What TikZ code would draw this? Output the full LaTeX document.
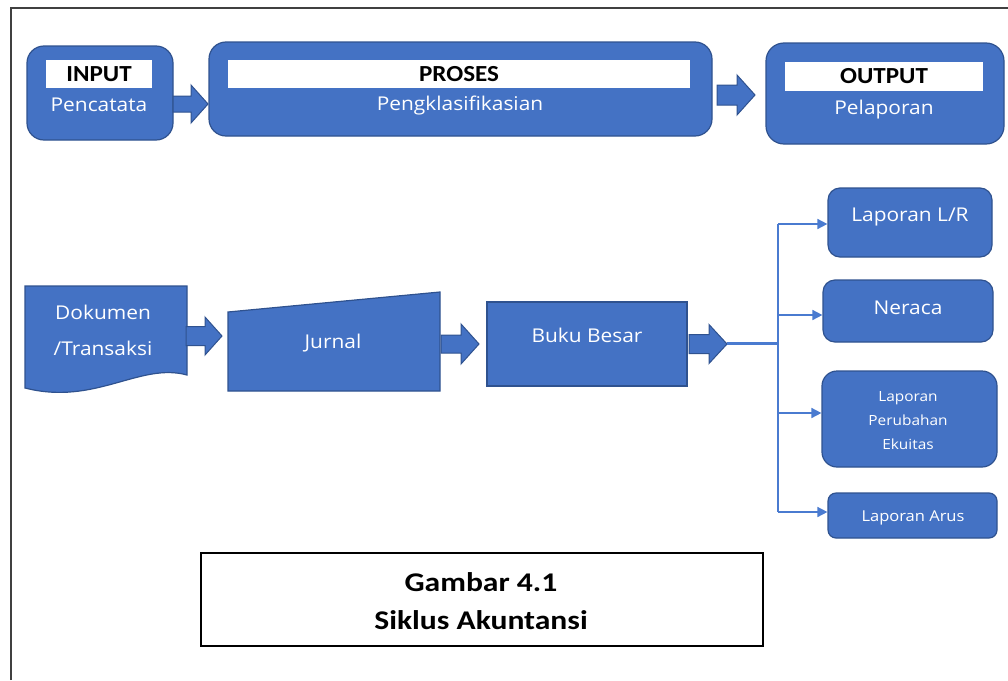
\documentclass[tikz,border=0pt]{standalone}
\usepackage{fontspec}
\setmainfont{Carlito}[FakeStretch=1.09]
\newfontfamily\wfont{Open Sans}[FakeStretch=1.1]
\newfontfamily\capfont{Carlito}[FakeStretch=1.17]
\usetikzlibrary{arrows.meta}
\definecolor{bfill}{HTML}{4472C4}
\definecolor{bdraw}{HTML}{2F528F}
\definecolor{lcol}{HTML}{4A7BD0}
\definecolor{framec}{HTML}{404040}
\newcommand\barrow[6]{%
  \filldraw[barrowst] ({#1},{#3-#4}) -- ({#2-#6},{#3-#4}) -- ({#2-#6},{#3-#5}) -- ({#2},{#3}) -- ({#2-#6},{#3+#5}) -- ({#2-#6},{#3+#4}) -- ({#1},{#3+#4}) -- cycle;}
\begin{document}
\begin{tikzpicture}[x=1pt,y=-1pt,
  rbox/.style={draw=bdraw, fill=bfill, line width=1.2pt, rounded corners=#1, inner sep=0pt},
  sbox/.style={draw=bdraw, fill=bfill, line width=1.2pt, inner sep=0pt},
  wbar/.style={fill=white, draw=none, inner sep=0pt, font=\bfseries\fontsize{23}{26}\selectfont, text=black},
  wtext/.style={text=white, inner sep=0pt, font=\wfont\fontsize{19}{22}\selectfont},
  barrowst/.style={fill=bfill, draw=bdraw, line width=1pt, line join=miter},
  conn/.style={draw=lcol, line width=1.6pt, -{Triangle[length=10pt,width=10pt]}},
  shapest/.style={fill=bfill, draw=bdraw, line width=1.2pt}
]
\useasboundingbox (0,0) rectangle (1008,680);
% frame
\draw[framec, line width=2.5pt] (11,680) -- (11,8);
\draw[framec, line width=1.5pt] (10,8) -- (1008,8);

% top row
\node[rbox=17pt, minimum width=146pt, minimum height=94pt] (inbox) at (100,93) {};
\node[wbar, minimum width=106pt, minimum height=28pt] (inlab) at (99,74) {INPUT};
\node[wtext] (intext) at (99,105) {Pencatata};

\node[rbox=17pt, minimum width=503pt, minimum height=94pt] (probox) at (460.5,89) {};
\node[wbar, minimum width=462pt, minimum height=28pt] (prolab) at (459,74) {PROSES};
\node[wtext] (protext) at (460,106) {Pengklasifikasian};

\node[rbox=18pt, minimum width=238pt, minimum height=101pt] (outbox) at (885,93.5) {};
\node[wbar, minimum width=198pt, minimum height=29pt] (outlab) at (884,76.5) {OUTPUT};
\node[wtext] (outtext) at (884,110) {Pelaporan};

\barrow{173}{208}{104}{8}{19}{17}
\barrow{717}{755}{95}{10}{20}{18}

% second row
\path[shapest] (25,286) -- (187,286) -- (187,375) .. controls (140,362) and (95,406) .. (25,388) -- cycle;
\node[wtext, align=center, font=\wfont\fontsize{19}{36}\selectfont] (dok) at (103,330) {Dokumen\\/Transaksi};

\path[shapest] (228,312) -- (440,292) -- (440,391) -- (228,391) -- cycle;
\node[wtext] (jur) at (333,343) {Jurnal};

\node[sbox, minimum width=200pt, minimum height=84pt] (bukubox) at (587,344) {};
\node[wtext] (buku) at (587,335) {Buku Besar};

\barrow{186}{222}{336}{9.5}{19}{17}
\barrow{441}{479}{344}{9}{20}{18}
\barrow{689}{727}{344}{9.5}{19.5}{18}

% right boxes
\node[rbox=12pt, minimum width=164pt, minimum height=69pt] (lrbox) at (910,222.5) {};
\node[wtext] (lr) at (910,217) {Laporan L/R};
\node[rbox=12pt, minimum width=170pt, minimum height=62pt] (nerbox) at (908,311) {};
\node[wtext] (ner) at (908,308) {Neraca};
\node[rbox=15pt, minimum width=175pt, minimum height=96pt] (ekbox) at (909.5,419) {};
\node[wtext, align=center, font=\wfont\fontsize{14}{24}\selectfont] (ek) at (908,421) {Laporan\\Perubahan\\Ekuitas};
\node[rbox=8pt, minimum width=169pt, minimum height=45pt] (arbox) at (912.5,515.5) {};
\node[wtext, font=\wfont\fontsize{15}{18}\selectfont] (ar) at (913,518) {Laporan Arus};

% connectors
\coordinate (start) at (727,343);
\coordinate (junc) at (779,343);
\draw[lcol, line width=3pt] (start) -- (junc);
\draw[lcol, line width=1.6pt] (778,224) -- (778,512);
\draw[conn] (778,224) -- (lrbox.west |- 0,224);
\draw[conn] (778,315) -- (nerbox.west |- 0,315);
\draw[conn] (778,413) -- (ekbox.west |- 0,413);
\draw[conn] (778,512) -- (arbox.west |- 0,512);

% caption
\node[draw=black, line width=1.5pt, minimum width=562pt, minimum height=93pt] (cap) at (482,599.5) {};
\node[inner sep=0pt, align=center, font=\capfont\bfseries\fontsize{27}{38}\selectfont] (captext) at (481,601) {Gambar 4.1\\Siklus Akuntansi};
\end{tikzpicture}
\end{document}
